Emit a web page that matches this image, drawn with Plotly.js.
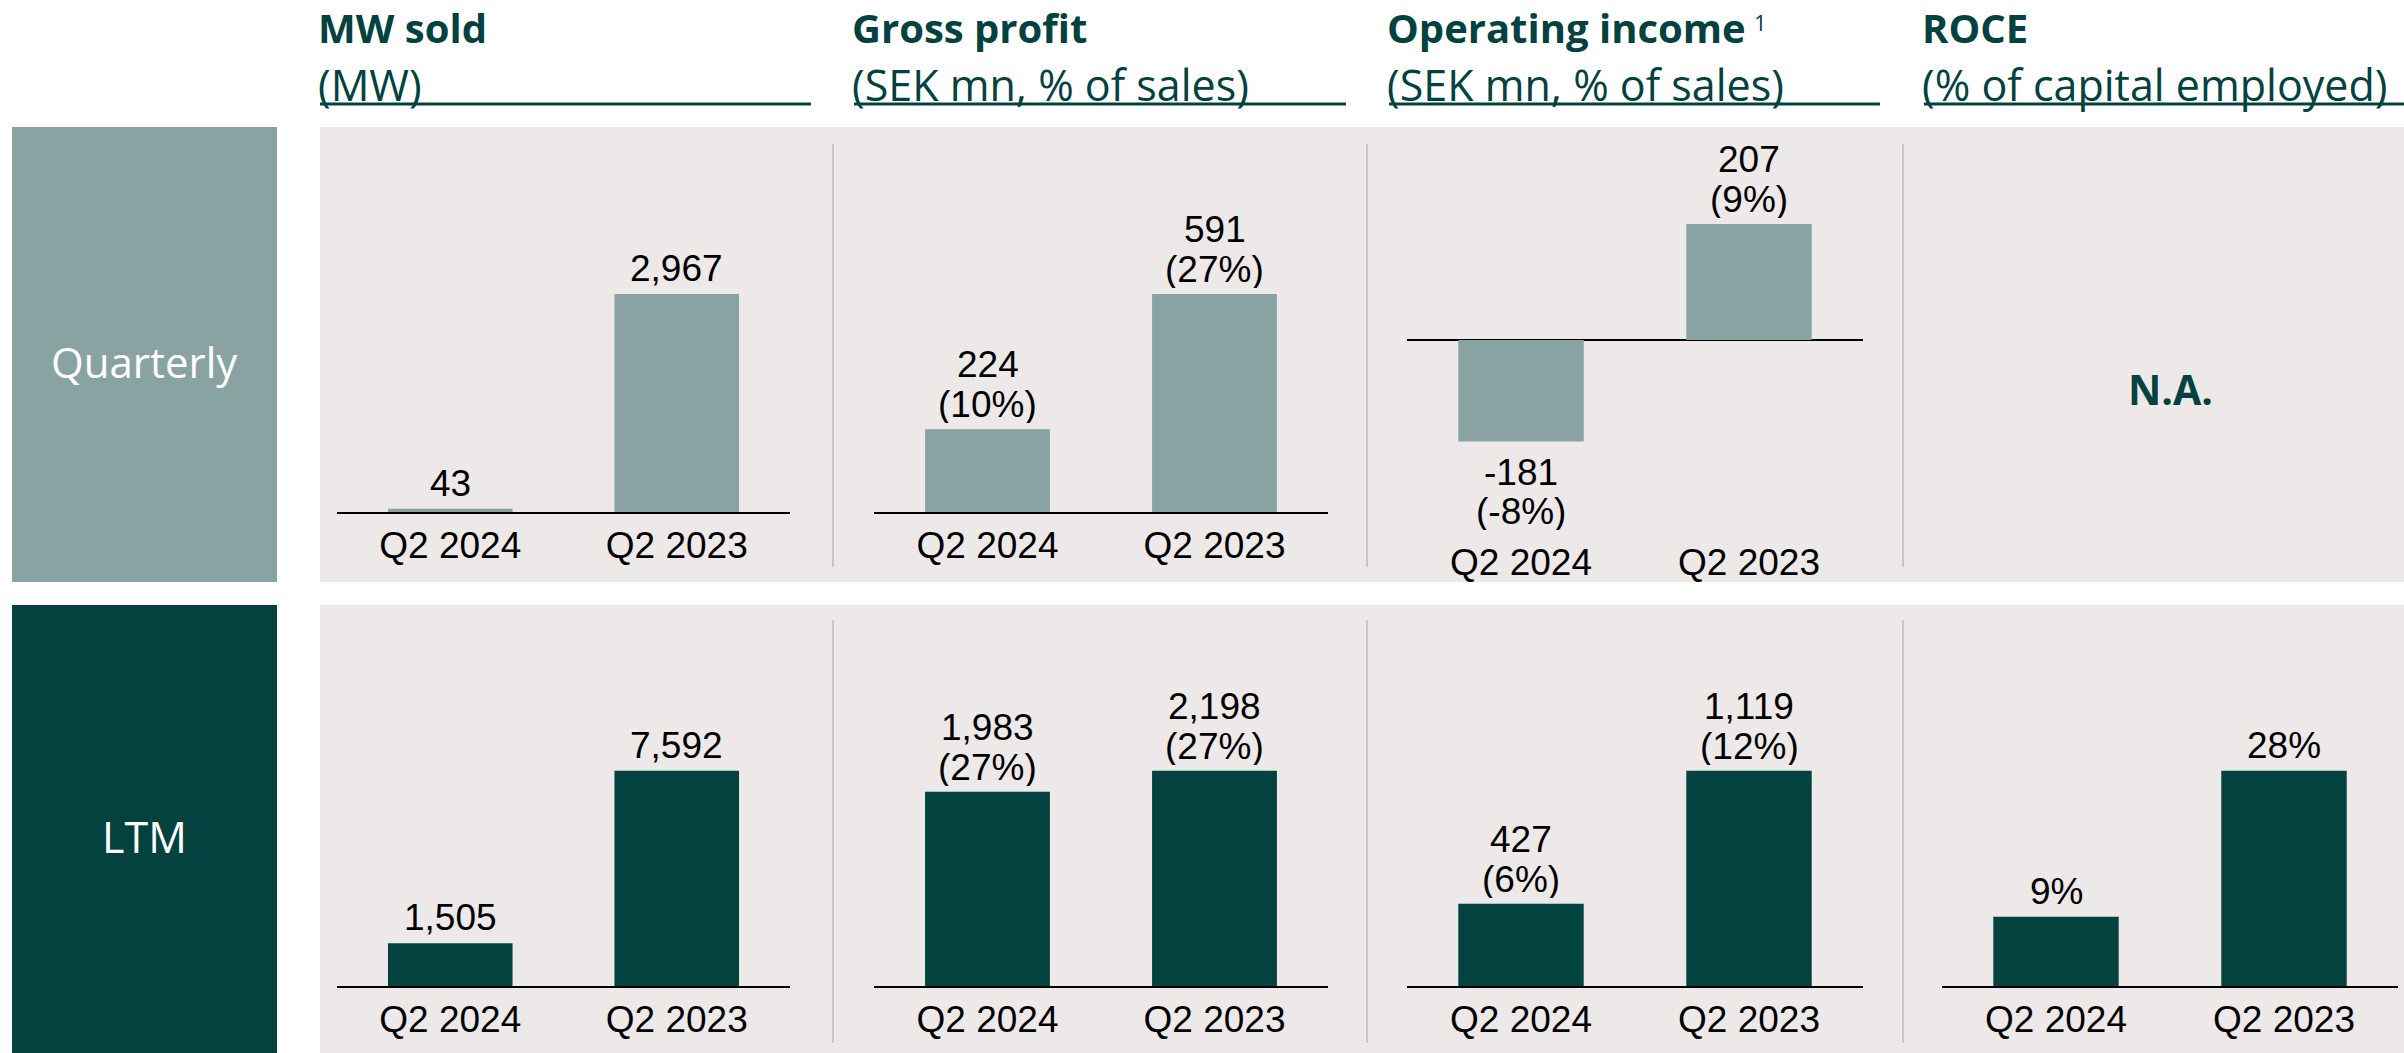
<!DOCTYPE html>
<html>
<head>
<meta charset="utf-8">
<script src="https://cdn.plot.ly/plotly-3.0.1.min.js"></script>
<style>
  html, body { margin: 0; padding: 0; background: #ffffff; }
  #chart { width: 2404px; height: 1053px; }
</style>
</head>
<body>
<div id="chart"></div>
<script>
// ---------------- DATA ----------------
const categories = ['Q2 2024', 'Q2 2023'];

const mwQuarterly = [43, 2967];
const mwLtm = [1505, 7592];

const gpQuarterly = [224, 591];
const gpQuarterlyPct = [10, 27];
const gpLtm = [1983, 2198];
const gpLtmPct = [27, 27];

const opQuarterly = [-181, 207];
const opQuarterlyPct = [-8, 9];
const opLtm = [427, 1119];
const opLtmPct = [6, 12];

const roceLtm = [9, 28];

const headerTitles = ['MW sold', 'Gross profit', 'Operating income', 'ROCE'];
const headerSuperscripts = ['', '', '1', ''];
const headerSubtitles = ['(MW)', '(SEK mn, % of sales)', '(SEK mn, % of sales)', '(% of capital employed)'];
const rowLabels = ['Quarterly', 'LTM'];
const notAvailableText = 'N.A.';

// ---------------- STYLE ----------------
const W = 2404, H = 1053;
const DARK = '#03423f';
const LIGHT = '#88a3a2';
const PANEL = '#ede9e8';
const SEP = '#bdbab9';
const LABEL_FONT = 'Liberation Sans, Arial, sans-serif';
const HEAD_FONT = '"Open Sans", Lato, sans-serif';
const LABEL_SIZE = 37;
const TITLE_SIZE = 40;

const px = v => v / W;
const py = v => 1 - v / H;
const fmt = v => v.toLocaleString('en-US');

// chart column plot-area extents (px)
const colX = [[337, 790], [874, 1328], [1407, 1863], [1942, 2398]];
const headerX = [320, 854, 1389, 1924];
const headerRight = [811, 1346, 1880, 2404];

// row plot-area extents (px): top, bottom
const rowQ = [145, 512];
const rowQop = [145, 537];
const rowL = [620, 986];

function barTrace(axisIdx, values, color) {
  const s = axisIdx === 1 ? '' : String(axisIdx);
  return {
    type: 'bar',
    x: categories,
    y: values,
    xaxis: 'x' + s,
    yaxis: 'y' + s,
    marker: { color: color, line: { width: 0 } },
    hoverinfo: 'skip',
    showlegend: false
  };
}

const data = [
  barTrace(1, mwQuarterly, LIGHT),
  barTrace(2, gpQuarterly, LIGHT),
  barTrace(3, opQuarterly, LIGHT),
  barTrace(4, mwLtm, DARK),
  barTrace(5, gpLtm, DARK),
  barTrace(6, opLtm, DARK),
  barTrace(7, roceLtm, DARK)
];

function xAxis(col, showLine, anchor) {
  return {
    domain: [px(colX[col][0]), px(colX[col][1])],
    anchor: anchor,
    type: 'category',
    range: [-0.5, 1.5],
    showline: showLine,
    linecolor: '#000000',
    linewidth: 2,
    ticks: '',
    showgrid: false,
    zeroline: false,
    tickfont: { family: LABEL_FONT, size: LABEL_SIZE, color: '#000000' },
    fixedrange: true
  };
}
function yAxis(row, range, anchor, zero) {
  return {
    domain: [py(row[1]), py(row[0])],
    anchor: anchor,
    range: range,
    showgrid: false,
    showticklabels: false,
    showline: false,
    ticks: '',
    zeroline: !!zero,
    zerolinecolor: '#000000',
    zerolinewidth: 2,
    fixedrange: true
  };
}

const maxAbs = arr => Math.max.apply(null, arr.map(Math.abs));
const qHead = 1.683, lHead = 1.70;

const layout = {
  width: W, height: H,
  margin: { l: 0, r: 0, t: 0, b: 0, pad: 0 },
  paper_bgcolor: '#ffffff',
  plot_bgcolor: 'rgba(0,0,0,0)',
  bargap: 0.45,
  showlegend: false,
  xaxis: xAxis(0, true, 'y'),
  yaxis: yAxis(rowQ, [0, maxAbs(mwQuarterly) * qHead], 'x'),
  xaxis2: xAxis(1, true, 'y2'),
  yaxis2: yAxis(rowQ, [0, maxAbs(gpQuarterly) * qHead], 'x2'),
  xaxis3: xAxis(2, false, 'y3'),
  yaxis3: yAxis(rowQop, [-maxAbs(opQuarterly) * 1.698, maxAbs(opQuarterly) * 1.681], 'x3', true),
  xaxis4: xAxis(0, true, 'y4'),
  yaxis4: yAxis(rowL, [0, maxAbs(mwLtm) * lHead], 'x4'),
  xaxis5: xAxis(1, true, 'y5'),
  yaxis5: yAxis(rowL, [0, maxAbs(gpLtm) * lHead], 'x5'),
  xaxis6: xAxis(2, true, 'y6'),
  yaxis6: yAxis(rowL, [0, maxAbs(opLtm) * lHead], 'x6'),
  xaxis7: xAxis(3, true, 'y7'),
  yaxis7: yAxis(rowL, [0, maxAbs(roceLtm) * lHead], 'x7'),
  shapes: [],
  annotations: []
};

// ---- value labels above / below bars (anchored to the data values) ----
function addLabels(axisIdx, values, lines1, lines2) {
  const s = axisIdx === 1 ? '' : String(axisIdx);
  values.forEach((v, i) => {
    const sign = v >= 0 ? 1 : -1;
    const base = { xref: 'x' + s, yref: 'y' + s, x: categories[i], y: v,
      xanchor: 'center', yanchor: 'middle', showarrow: false, height: 38,
      font: { family: LABEL_FONT, size: LABEL_SIZE, color: '#000000' } };
    if (lines2) {
      layout.annotations.push(Object.assign({}, base, { text: lines1[i], yshift: sign > 0 ? 65 : -31 }));
      layout.annotations.push(Object.assign({}, base, { text: lines2[i], yshift: sign > 0 ? 25 : -70 }));
    } else {
      layout.annotations.push(Object.assign({}, base, { text: lines1[i], yshift: sign * 26 }));
    }
  });
}
const nums = arr => arr.map(fmt);
const pcts = arr => arr.map(p => '(' + p + '%)');

addLabels(1, mwQuarterly, nums(mwQuarterly));
addLabels(2, gpQuarterly, nums(gpQuarterly), pcts(gpQuarterlyPct));
addLabels(3, opQuarterly, nums(opQuarterly), pcts(opQuarterlyPct));
addLabels(4, mwLtm, nums(mwLtm));
addLabels(5, gpLtm, nums(gpLtm), pcts(gpLtmPct));
addLabels(6, opLtm, nums(opLtm), pcts(opLtmPct));
addLabels(7, roceLtm, roceLtm.map(v => v + '%'));

// background panels and row label boxes
const rects = [
  { x0: 12, x1: 277, y0: 127, y1: 582, color: LIGHT },
  { x0: 12, x1: 277, y0: 605, y1: 1053, color: DARK },
  { x0: 320, x1: 2404, y0: 127, y1: 582, color: PANEL },
  { x0: 320, x1: 2404, y0: 605, y1: 1053, color: PANEL }
];
rects.forEach(r => layout.shapes.push({
  type: 'rect', xref: 'paper', yref: 'paper', layer: 'below',
  x0: px(r.x0), x1: px(r.x1), y0: py(r.y1), y1: py(r.y0),
  fillcolor: r.color, line: { width: 0 }
}));

// vertical separators
[833, 1367, 1903].forEach(x => {
  [[144, 567], [620, 1043]].forEach(([a, b]) => layout.shapes.push({
    type: 'line', xref: 'paper', yref: 'paper', layer: 'below',
    x0: px(x), x1: px(x), y0: py(b), y1: py(a),
    line: { color: SEP, width: 1.5 }
  }));
});

// header underlines
headerX.forEach((x, i) => layout.shapes.push({
  type: 'line', xref: 'paper', yref: 'paper',
  x0: px(x), x1: px(headerRight[i]), y0: py(104), y1: py(104),
  line: { color: DARK, width: 3 }
}));

// measure title widths to place the footnote marker right after the title
const measureCtx = document.createElement('canvas').getContext('2d');
measureCtx.font = 'bold ' + TITLE_SIZE + 'px "Open Sans"';

// header texts
headerTitles.forEach((t, i) => {
  layout.annotations.push({
    xref: 'paper', yref: 'paper', x: px(headerX[i] - 3), y: py(27),
    xanchor: 'left', yanchor: 'middle', showarrow: false, borderpad: 0,
    text: '<b>' + t + '</b>',
    font: { family: HEAD_FONT, size: TITLE_SIZE, color: DARK }
  });
  if (headerSuperscripts[i]) {
    const w = measureCtx.measureText(t).width;
    layout.annotations.push({
      xref: 'paper', yref: 'paper', x: px(headerX[i] - 3 + w + 8), y: py(22),
      xanchor: 'left', yanchor: 'middle', showarrow: false, borderpad: 0,
      text: headerSuperscripts[i],
      font: { family: HEAD_FONT, size: 22, color: DARK }
    });
  }
  layout.annotations.push({
    xref: 'paper', yref: 'paper', x: px(headerX[i] - 3), y: py(84),
    xanchor: 'left', yanchor: 'middle', showarrow: false, borderpad: 0,
    text: headerSubtitles[i],
    font: { family: HEAD_FONT, size: 43, color: DARK }
  });
});

// row labels
layout.annotations.push({
  xref: 'paper', yref: 'paper', x: px(144), y: py(362),
  xanchor: 'center', yanchor: 'middle', showarrow: false,
  text: rowLabels[0], font: { family: HEAD_FONT, size: 42, color: '#ffffff' }
});
layout.annotations.push({
  xref: 'paper', yref: 'paper', x: px(144), y: py(836),
  xanchor: 'center', yanchor: 'middle', showarrow: false,
  text: rowLabels[1], font: { family: HEAD_FONT, size: 43, color: '#ffffff' }
});

// N.A. in ROCE quarterly
layout.annotations.push({
  xref: 'paper', yref: 'paper', x: px(2170), y: py(389),
  xanchor: 'center', yanchor: 'middle', showarrow: false,
  text: '<b>' + notAvailableText + '</b>', font: { family: HEAD_FONT, size: 41, color: DARK }
});

Plotly.newPlot('chart', data, layout, { staticPlot: true, displayModeBar: false });
</script>
</body>
</html>
